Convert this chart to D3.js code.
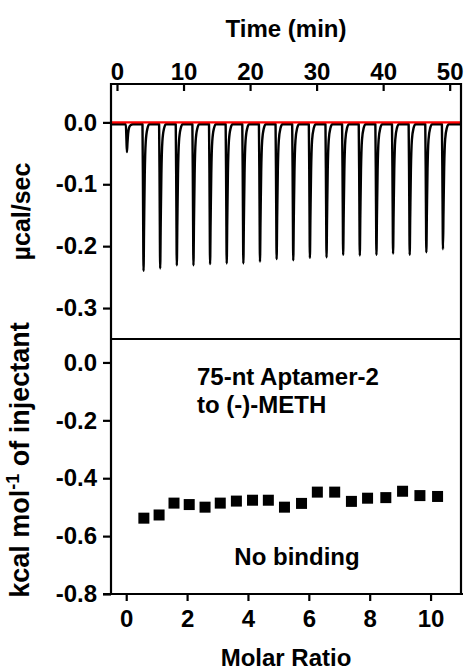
<!DOCTYPE html>
<html>
<head>
<meta charset="utf-8">
<script src="https://cdn.jsdelivr.net/npm/d3@7"></script>
<style>
  body { margin: 0; background: #fff; }
  svg text { font-family: "Liberation Sans", Arial, sans-serif; font-weight: bold; fill: #000; }
</style>
</head>
<body>
<div id="chart"></div>
<script>
// raw thermogram: injection start times (min) and peak minima (ucal/sec)
var injTimes = [1.37, 3.87, 6.37, 8.87, 11.37, 13.87, 16.37, 18.87, 21.37, 23.87,
  26.37, 28.87, 31.37, 33.87, 36.37, 38.87, 41.37, 43.87, 46.37, 48.87];
var peakDepths = [-0.048, -0.240, -0.236, -0.231, -0.231, -0.229, -0.228, -0.228, -0.225, -0.221,
  -0.223, -0.219, -0.218, -0.214, -0.215, -0.214, -0.212, -0.214, -0.210, -0.205];
var baseline = -0.003;

// integrated heats
var molarRatio = [0.58, 1.08, 1.57, 2.07, 2.59, 3.09, 3.62, 4.15, 4.67, 5.20,
  5.76, 6.28, 6.85, 7.40, 7.93, 8.53, 9.08, 9.65, 10.23];
var kcalPerMol = [-0.538, -0.527, -0.486, -0.491, -0.500, -0.486, -0.479, -0.476, -0.476, -0.500,
  -0.487, -0.448, -0.448, -0.480, -0.469, -0.467, -0.445, -0.460, -0.463];

var timeTicks = [0, 10, 20, 30, 40, 50];
var ucalTicks = [0, -0.1, -0.2, -0.3];
var kcalTicks = [0, -0.2, -0.4, -0.6, -0.8];
var ratioTicks = [0, 2, 4, 6, 8, 10];

// shape of a single injection spike: [minutes after injection, fraction of depth]
var spikeShape = [[-0.04, 0], [0.05, 0.55], [0.12, 1], [0.2, 0.7], [0.3, 0.35], [0.45, 0.12], [0.7, 0.03], [1.0, 0]];

var W = 465, H = 670;
var left = 111, right = 461;
var topY = 84, midY = 339, botY = 594;
var FS = '24px';

var svg = d3.select('#chart').append('svg')
  .attr('width', W)
  .attr('height', H);

var xTime = d3.scaleLinear().domain([-0.9, 51.7]).range([left, right]);
var yUcal = d3.scaleLinear().domain([-0.35, 0.062]).range([midY, topY]);
var xRatio = d3.scaleLinear().domain([-0.5, 11]).range([left, right]);
var yKcal = d3.scaleLinear().domain([-0.8, 0.081]).range([botY, midY]);

_drawThermogram();
_drawHeats();
_drawFrame();
_drawAxes();
_drawLabels();

function _drawThermogram () {
  var pts = [[-0.9, baseline]];
  injTimes.forEach(function (t, i) {
    spikeShape.forEach(function (s) {
      pts.push([t + s[0], baseline + (peakDepths[i] - baseline) * s[1]]);
    });
  });
  pts.push([51.6, baseline]);

  var line = d3.line()
    .x(function (d) { return xTime(d[0]); })
    .y(function (d) { return yUcal(d[1]); })
    .curve(d3.curveMonotoneX);

  svg.append('path')
    .datum(pts)
    .style('fill', 'none')
    .style('stroke', 'black')
    .style('stroke-width', 2.4)
    .style('stroke-linejoin', 'round')
    .attr('d', line);

  svg.append('line')
    .attr('x1', left).attr('x2', right)
    .attr('y1', yUcal(0)).attr('y2', yUcal(0))
    .style('stroke', '#ff0000')
    .style('stroke-width', 2.2);
}

function _drawHeats () {
  var size = 11;
  svg.selectAll('.heat')
    .data(molarRatio)
    .enter()
    .append('rect')
    .attr('class', 'heat')
    .attr('x', function (d) { return xRatio(d) - size / 2; })
    .attr('y', function (d, i) { return yKcal(kcalPerMol[i]) - size / 2; })
    .attr('width', size)
    .attr('height', size)
    .style('fill', 'black');
}

function _drawFrame () {
  var g = svg.append('g')
    .style('stroke', 'black')
    .style('stroke-width', 2.2)
    .style('fill', 'none');

  g.append('path').attr('d', 'M' + left + ',' + botY + 'V' + topY + 'H' + right + 'V' + botY);
  g.append('line').attr('x1', left).attr('x2', right).attr('y1', midY).attr('y2', midY);
  g.append('line').attr('x1', left - 8).attr('x2', right + 2).attr('y1', botY).attr('y2', botY);
}

function _drawAxes () {
  // top time axis, ticks pointing in
  var top = svg.append('g').attr('transform', 'translate(0,' + topY + ')')
    .call(d3.axisTop(xTime).tickValues(timeTicks).tickSize(-7).tickPadding(4));
  _styleAxis(top);

  var yu = svg.append('g').attr('transform', 'translate(' + left + ',0)')
    .call(d3.axisLeft(yUcal).tickValues(ucalTicks).tickSize(8).tickPadding(6).tickFormat(d3.format('.1f')));
  _styleAxis(yu);

  var yk = svg.append('g').attr('transform', 'translate(' + left + ',0)')
    .call(d3.axisLeft(yKcal).tickValues(kcalTicks).tickSize(8).tickPadding(6).tickFormat(d3.format('.1f')));
  _styleAxis(yk);

  var xb = svg.append('g').attr('transform', 'translate(0,' + botY + ')')
    .call(d3.axisBottom(xRatio).tickValues(ratioTicks).tickSize(7).tickPadding(9));
  _styleAxis(xb);
}

function _styleAxis (g) {
  g.select('.domain').remove();
  g.selectAll('.tick line').style('stroke', 'black').style('stroke-width', 2.2);
  g.selectAll('.tick text')
    .style('font-size', FS)
    .style('font-family', '"Liberation Sans", Arial, sans-serif')
    .style('font-weight', 'bold')
    .style('fill', 'black')
    .text(function () { return d3.select(this).text().replace('\u2212', '-'); });
}

function _drawLabels () {
  svg.append('text')
    .attr('x', 286).attr('y', 37)
    .attr('text-anchor', 'middle')
    .style('font-size', FS)
    .text('Time (min)');

  svg.append('text')
    .attr('x', 286).attr('y', 666)
    .attr('text-anchor', 'middle')
    .style('font-size', FS)
    .text('Molar Ratio');

  svg.append('text')
    .attr('transform', 'translate(30,' + (topY + midY) / 2 + ') rotate(-90)')
    .attr('text-anchor', 'middle')
    .style('font-size', '25px')
    .text('\u00b5cal/sec');

  var k = svg.append('text')
    .attr('transform', 'translate(29,' + 460 + ') rotate(-90)')
    .attr('text-anchor', 'middle')
    .style('font-size', '27px');
  k.append('tspan').text('kcal mol');
  k.append('tspan').attr('dy', -10).style('font-size', '18px').text('-1');
  k.append('tspan').attr('dy', 10).text(' of injectant');

  var note = svg.append('text')
    .attr('x', 197)
    .attr('y', 385)
    .style('font-size', FS);
  note.append('tspan').attr('x', 197).text('75-nt Aptamer-2');
  note.append('tspan').attr('x', 197).attr('dy', 28).text('to (-)-METH');

  svg.append('text')
    .attr('x', 297).attr('y', 565)
    .attr('text-anchor', 'middle')
    .style('font-size', FS)
    .text('No binding');
}
</script>
</body>
</html>
